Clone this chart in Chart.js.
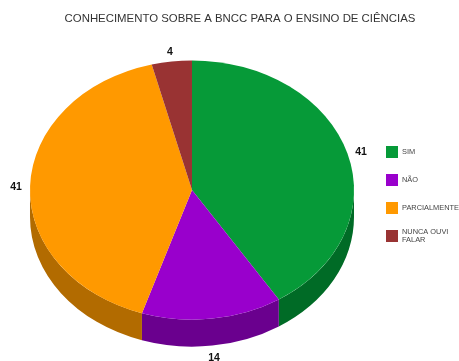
<!DOCTYPE html>
<html>
<head>
<meta charset="utf-8">
<style>
  html, body { margin: 0; padding: 0; background: #fff; }
  #box { width: 459px; height: 361px; }
</style>
<script src="https://cdn.jsdelivr.net/npm/chart.js@4/dist/chart.umd.js"></script>
</head>
<body>
<div id="box"><canvas id="pie" width="459" height="361"></canvas></div>
<script>
const titleText = 'CONHECIMENTO SOBRE A BNCC PARA O ENSINO DE CIÊNCIAS';
const categories = ['SIM', 'NÃO', 'PARCIALMENTE', 'NUNCA OUVI\nFALAR'];
const answers = [41, 14, 41, 4];
const topColors = ['#069a38', '#9900cc', '#ff9900', '#993333'];
const sideColors = ['#006b26', '#6a008e', '#b26b00', '#6b2424'];

const tilt = 0.8;     // squash of the pie into an ellipse
const depth = 27;     // height of the side wall
const labelGap = 176; // distance of the value labels from the centre

// tilts the pie and paints the wall under it
const tiltPlugin = {
  id: 'tilt',
  beforeDatasetsDraw(chart) {
    const ctx = chart.ctx;
    const arcs = chart.getDatasetMeta(0).data;
    arcs.forEach((arc, i) => {
      // only the part of the rim facing the viewer has a visible wall
      const from = Math.max(arc.startAngle, 0);
      const to = Math.min(arc.endAngle, Math.PI);
      if (from >= to) return;
      const r = arc.outerRadius;
      ctx.fillStyle = sideColors[i];
      ctx.beginPath();
      ctx.ellipse(arc.x, arc.y, r, r * tilt, 0, from, to);
      ctx.ellipse(arc.x, arc.y + depth, r, r * tilt, 0, to, from, true);
      ctx.closePath();
      ctx.fill();
    });
    const a = arcs[0];
    ctx.save();
    ctx.translate(a.x, a.y);
    ctx.scale(1, tilt);
    ctx.translate(-a.x, -a.y);
  },
  afterDatasetsDraw(chart) {
    chart.ctx.restore();
  },
  afterDraw(chart) {
    const ctx = chart.ctx;
    const arcs = chart.getDatasetMeta(0).data;
    ctx.save();

    ctx.textBaseline = 'middle';
    ctx.textAlign = 'center';
    ctx.fillStyle = '#333';
    ctx.font = '11.4px "Liberation Sans"';
    ctx.fillText(titleText, 240, 19);

    // value labels around the rim
    ctx.fillStyle = '#111';
    ctx.font = 'bold 10.5px "Liberation Sans"';
    arcs.forEach((arc, i) => {
      const mid = (arc.startAngle + arc.endAngle) / 2;
      const x = arc.x + Math.cos(mid) * labelGap;
      let y = arc.y + 1.5 + Math.sin(mid) * labelGap * tilt;
      if (Math.sin(mid) > 0.5) y += depth;
      ctx.fillText(String(answers[i]), x, y);
    });

    // legend
    ctx.textAlign = 'left';
    ctx.font = '7.4px "Liberation Sans"';
    categories.forEach((name, i) => {
      const rowY = 152 + i * 28;
      ctx.fillStyle = topColors[i];
      ctx.fillRect(386, rowY - 6, 12, 12);
      ctx.fillStyle = '#444';
      const lines = name.split('\n');
      lines.forEach((line, j) => {
        ctx.fillText(line, 402, rowY + (j - (lines.length - 1) / 2) * 8);
      });
    });
    ctx.restore();
  }
};

new Chart(document.getElementById('pie'), {
  type: 'pie',
  data: {
    labels: categories,
    datasets: [{
      data: answers,
      backgroundColor: topColors,
      borderWidth: 0
    }]
  },
  options: {
    responsive: false,
    animation: false,
    events: [],
    layout: { padding: { left: 30, right: 105, top: 28, bottom: 9 } },
    plugins: {
      legend: { display: false },
      title: { display: false },
      tooltip: { enabled: false }
    }
  },
  plugins: [tiltPlugin]
});
</script>
</body>
</html>
